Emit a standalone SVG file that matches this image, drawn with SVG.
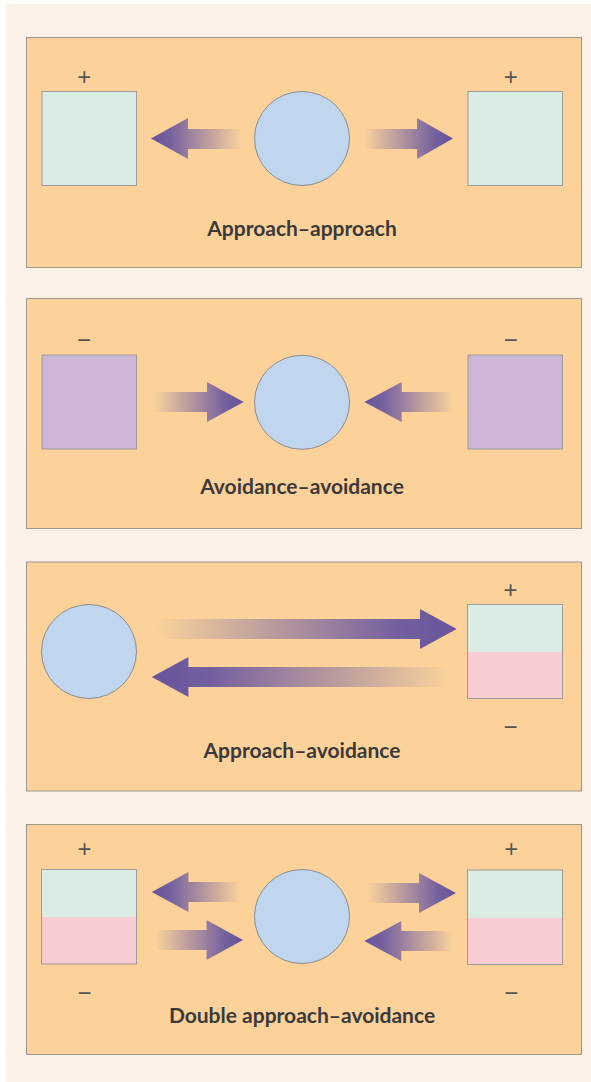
<svg xmlns="http://www.w3.org/2000/svg" width="591" height="1082" viewBox="0 0 591 1082">
  <defs>
    <!-- arrow fill: fades from the panel colour at the tail to purple at the tip -->
    <linearGradient id="toRight" x1="0" y1="0" x2="1" y2="0">
      <stop offset="0" stop-color="#FCD39C"/>
      <stop offset="0.8" stop-color="#74609F"/>
      <stop offset="1" stop-color="#66539A"/>
    </linearGradient>
    <linearGradient id="toLeft" x1="1" y1="0" x2="0" y2="0">
      <stop offset="0" stop-color="#FCD39C"/>
      <stop offset="0.8" stop-color="#74609F"/>
      <stop offset="1" stop-color="#66539A"/>
    </linearGradient>
    <style>
      .panel { fill: #FDD19A; stroke: #9C9890; stroke-width: 1; }
      .person { fill: #BFD6EE; stroke: #8C8C8C; stroke-width: 1; }
      .pos { fill: #DBEDE2; }
      .neg { fill: #F9CCD3; }
      .avoid { fill: #CDB5D8; }
      .frame { fill: none; stroke: #9C9C98; stroke-width: 1; }
      .sign { font-family: "Liberation Sans", Arial, sans-serif; font-size: 24px; fill: #555; text-anchor: middle; }
      .label { font-family: Lato, "Noto Sans", sans-serif; font-weight: 700; font-size: 21px; fill: #3A3A3A; text-anchor: middle; }
      .right { fill: url(#toRight); }
      .left { fill: url(#toLeft); }
    </style>
  </defs>

  <rect x="0" y="0" width="591" height="1082" fill="#FFFFFF"/>
  <rect x="6" y="4" width="585" height="1078" fill="#FCF1E6"/>

  <!-- Approach-approach -->
  <g id="panel-approach-approach">
    <rect class="panel" x="26.5" y="37.5" width="555" height="230"/>
    <g id="aa-goal-left">
      <rect class="pos" x="42" y="91.5" width="94.5" height="94"/>
      <rect class="frame" x="42" y="91.5" width="94.5" height="94"/>
      <text class="sign" x="84.3" y="84.5">+</text>
    </g>
    <g id="aa-person"><ellipse class="person" cx="302" cy="138.5" rx="47.5" ry="47"/></g>
    <g id="aa-goal-right">
      <rect class="pos" x="468" y="91.5" width="94.5" height="94"/>
      <rect class="frame" x="468" y="91.5" width="94.5" height="94"/>
      <text class="sign" x="510.7" y="84.5">+</text>
    </g>
    <text class="label" x="302" y="236">Approach–approach</text>
  </g>

  <!-- Avoidance-avoidance -->
  <g id="panel-avoidance-avoidance">
    <rect class="panel" x="26.5" y="298.5" width="555" height="230"/>
    <g id="vv-goal-left">
      <rect class="avoid" x="42" y="355" width="94.5" height="94"/>
      <rect class="frame" x="42" y="355" width="94.5" height="94"/>
      <text class="sign" x="84" y="347.5">−</text>
    </g>
    <g id="vv-person"><ellipse class="person" cx="302" cy="402.3" rx="47.5" ry="47"/></g>
    <g id="vv-goal-right">
      <rect class="avoid" x="468" y="355" width="94.5" height="94"/>
      <rect class="frame" x="468" y="355" width="94.5" height="94"/>
      <text class="sign" x="510.7" y="347.5">−</text>
    </g>
    <text class="label" x="302" y="494">Avoidance–avoidance</text>
  </g>

  <!-- Approach-avoidance -->
  <g id="panel-approach-avoidance">
    <rect class="panel" x="26.5" y="562" width="555" height="229"/>
    <g id="av-person"><ellipse class="person" cx="89" cy="651.5" rx="47.5" ry="47"/></g>
    <g id="av-goal">
      <rect class="pos" x="467.5" y="604.5" width="95" height="47.5"/>
      <rect class="neg" x="467.5" y="652" width="95" height="46.5"/>
      <rect class="frame" x="467.5" y="604.5" width="95" height="94"/>
      <text class="sign" x="510.5" y="597.5">+</text>
      <text class="sign" x="510.5" y="735">−</text>
    </g>
    <text class="label" x="302" y="758">Approach–avoidance</text>
  </g>

  <!-- Double approach-avoidance -->
  <g id="panel-double">
    <rect class="panel" x="26.5" y="824.5" width="555" height="230"/>
    <g id="dd-goal-left">
      <rect class="pos" x="41.5" y="869.5" width="95" height="47.5"/>
      <rect class="neg" x="41.5" y="917" width="95" height="47"/>
      <rect class="frame" x="41.5" y="869.5" width="95" height="94.5"/>
      <text class="sign" x="84.4" y="856.5">+</text>
      <text class="sign" x="84.4" y="1000.5">−</text>
    </g>
    <g id="dd-person"><ellipse class="person" cx="302" cy="916.5" rx="47.5" ry="47"/></g>
    <g id="dd-goal-right">
      <rect class="pos" x="467.5" y="870" width="95" height="48"/>
      <rect class="neg" x="467.5" y="918" width="95" height="46.5"/>
      <rect class="frame" x="467.5" y="870" width="95" height="94.5"/>
      <text class="sign" x="511.3" y="856.5">+</text>
      <text class="sign" x="511.3" y="1000.5">−</text>
    </g>
    <text class="label" x="302" y="1022.5">Double approach–avoidance</text>
  </g>

  <!-- arrows -->
  <g id="connectors">
    <path class="left" d="M242,129 H188 V118 L151,138.5 L188,159 V149 H242 Z"/>
    <path class="right" d="M363,129 H417 V118 L453,138.5 L417,159 V149 H363 Z"/>

    <path class="right" d="M153,392 H207 V382 L243.7,402 L207,422 V412 H153 Z"/>
    <path class="left" d="M454.3,392 H401.7 V382 L364.3,402 L401.7,422 V412 H454.3 Z"/>

    <path class="right" d="M154.5,619 H420 V609 L456.7,629 L420,649 V639 H154.5 Z"/>
    <path class="left" d="M452,667 H188.4 V657 L151.8,677 L188.4,697 V687 H452 Z"/>

    <path class="left" d="M241,882 H188.4 V872 L151.8,892 L188.4,912 V902 H241 Z"/>
    <path class="right" d="M154.5,930 H206.5 V920 L243,940 L206.5,960 V950 H154.5 Z"/>
    <path class="right" d="M367.4,883 H419 V873 L456,893 L419,913 V903 H367.4 Z"/>
    <path class="left" d="M454,931 H401.3 V921 L364.4,941 L401.3,961 V951 H454 Z"/>
  </g>
</svg>
